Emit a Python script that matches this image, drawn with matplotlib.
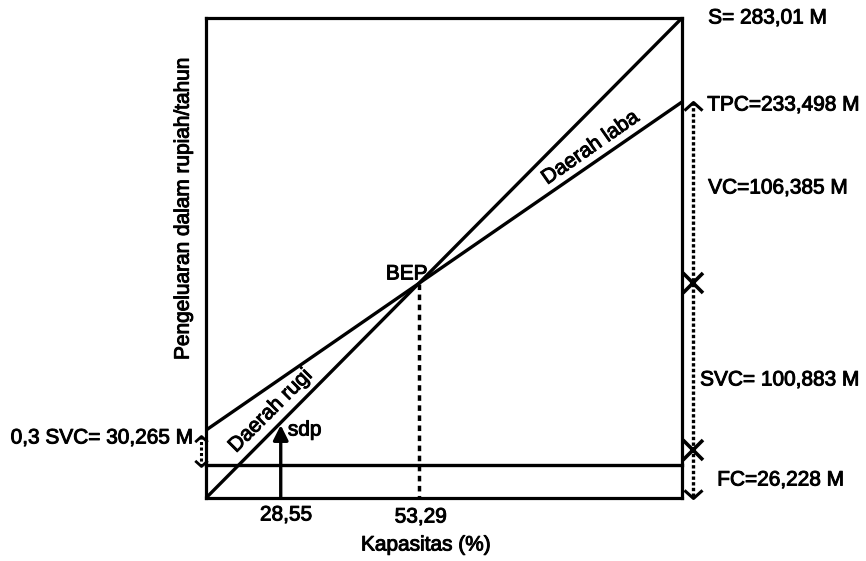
import matplotlib
matplotlib.use("Agg")
import matplotlib.pyplot as plt
import matplotlib.patheffects as pe
from matplotlib.path import Path
import numpy as np

plt.rcParams['font.family'] = ['Liberation Sans', 'DejaVu Sans']
plt.rcParams['font.size'] = 15

# ---- data (schematic BEP diagram) ----
capacity = [0, 100]                 # % capacity (schematic axis)
sales = [0, 283.01]                 # S line
tpc = [40.0, 233.498]               # total production cost line
fc_level = 19.5                     # fixed-cost horizontal line (drawn level)
cross_levels = [126.8, 28.3]        # X marks on right dotted arrow
sdp_cap = 15.7                      # shut-down point capacity (drawn)
sdp_top = 43.0
right_arrow = [233.498, 0]          # right dotted dimension line (top, bottom)
left_arrow = [36.5, 19.0]           # 0,3 SVC dimension
tick_labels = ["28,55", "53,29"]
right_labels = ["S= 283,01 M", "TPC=233,498 M", "VC=106,385 M",
                "SVC= 100,883 M", "FC=26,228 M"]
left_label = "0,3 SVC= 30,265 M"

# BEP at intersection of sales and TPC lines
s_slope = (sales[1] - sales[0]) / (capacity[1] - capacity[0])
t_slope = (tpc[1] - tpc[0]) / (capacity[1] - capacity[0])
bep_cap = (tpc[0] - sales[0]) / (s_slope - t_slope)
bep_val = sales[0] + s_slope * bep_cap

fig = plt.figure(figsize=(8.66, 5.61), dpi=100)
ax = fig.add_axes([206/866, 63/561, 476/866, 480/561])
ax.set_xlim(0, 100)
ax.set_ylim(0, 283.01)
ax.set_xticks([])
ax.set_yticks([])
for sp in ax.spines.values():
    sp.set_linewidth(2.3)
    sp.set_color('black')

lw = 2.4
ax.plot(capacity, sales, color='black', lw=lw, clip_on=False, solid_capstyle='butt')
ax.plot(capacity, tpc, color='black', lw=lw, clip_on=False, solid_capstyle='butt')
ax.plot(capacity, [fc_level, fc_level], color='black', lw=lw, clip_on=False)

# BEP dotted drop line
ax.plot([bep_cap, bep_cap], [bep_val, 0], color='black', lw=2.5,
        linestyle=(0, (1.6, 1.3)), clip_on=False)

# sdp arrow
ax.annotate('', xy=(sdp_cap, sdp_top), xytext=(sdp_cap, 0),
            arrowprops=dict(arrowstyle='-|>,head_length=0.6,head_width=0.3',
                            color='black', lw=2.4, shrinkA=0, shrinkB=0))

# chevron markers
up_chev = Path([(-1, -0.9), (0, 0), (1, -0.9)], [Path.MOVETO, Path.LINETO, Path.LINETO])
dn_chev = Path([(-1, 0.9), (0, 0), (1, 0.9)], [Path.MOVETO, Path.LINETO, Path.LINETO])

# right dimension line
rx = 102.3
ax.plot([rx, rx], right_arrow, color='black', lw=2.4,
        linestyle=(0, (1.0, 0.7)), clip_on=False)
ax.plot([rx], [right_arrow[0]], marker=up_chev, ms=13, mew=2.2, color='black',
        fillstyle='none', linestyle='none', clip_on=False)
ax.plot([rx], [right_arrow[1]], marker=dn_chev, ms=13, mew=2.2, color='black',
        fillstyle='none', linestyle='none', clip_on=False)
ax.plot([rx] * len(cross_levels), cross_levels, marker='x', ms=15, mew=2.6,
        color='black', linestyle='none', clip_on=False)

# left small dimension arrow
lx = -1.0
ax.plot([lx, lx], left_arrow, color='black', lw=2.2,
        linestyle=(0, (1.0, 0.8)), clip_on=False)
ax.plot([lx], [left_arrow[0]], marker=up_chev, ms=9, mew=2.0, color='black',
        fillstyle='none', linestyle='none', clip_on=False)
ax.plot([lx], [left_arrow[1]], marker=dn_chev, ms=9, mew=2.0, color='black',
        fillstyle='none', linestyle='none', clip_on=False)

# texts (slightly heavier stroke to mimic the printed look)
heavy = [pe.withStroke(linewidth=0.7, foreground='black')]
tkw = dict(color='black', clip_on=False, path_effects=heavy)
right_pos = [(105.5, 283.01), (105.3, 231.7), (105.5, 182.8), (103.8, 69.6), (107.4, 10.6)]
for lab, (x, y) in zip(right_labels, right_pos):
    ax.text(x, y, lab, ha='left', va='center', **tkw)
ax.text(-2.7, 35.4, left_label, ha='right', va='center', **tkw)
ax.text(42.2, 132.1, "BEP", ha='center', va='center', **tkw)
ax.text(17.2, 40.1, "sdp", ha='left', va='center', **tkw)
ax.text(16.8, -10.0, tick_labels[0], ha='center', va='center', **tkw)
ax.text(45.1, -11.2, tick_labels[1], ha='center', va='center', **tkw)
ax.text(46.2, -27.7, "Kapasitas (%)", ha='center', va='center', **tkw)
ax.text(-4.8, 171, "Pengeluaran dalam rupiah/tahun", ha='center', va='center',
        rotation=90, **tkw)
ax.text(13.6, 51.5, "Daerah rugi", ha='center', va='center', rotation=45, **tkw)
ax.text(80.8, 206.5, "Daerah laba", ha='center', va='center', rotation=35, **tkw)

fig.savefig("out.png", dpi=100)
